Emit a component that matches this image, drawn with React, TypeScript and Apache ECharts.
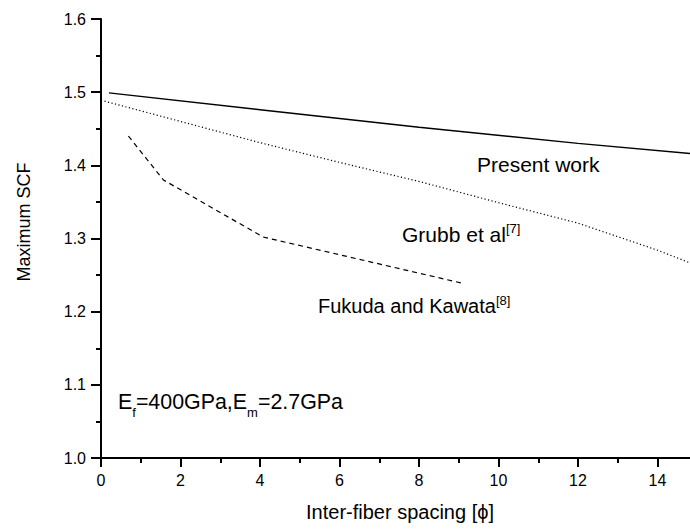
import React, { useEffect, useRef } from "react";
import * as echarts from "echarts";

// Data
const presentX = [0.2, 4, 8, 12, 14.85];
const presentY = [1.499, 1.476, 1.452, 1.43, 1.416];

const grubbX = [0, 2, 4, 6, 8, 10, 12, 14, 14.85];
const grubbY = [1.489, 1.46, 1.431, 1.404, 1.378, 1.349, 1.321, 1.284, 1.266];

const fukudaX = [0.69, 1.57, 4.08, 9.08];
const fukudaY = [1.44, 1.38, 1.302, 1.239];

const yTicks = [1.0, 1.1, 1.2, 1.3, 1.4, 1.5, 1.6];
const xTicks = [0, 2, 4, 6, 8, 10, 12, 14];

// E label pieces: [text, isSubscript]
const eLabelParts: [string, boolean][] = [
  ["E", false],
  ["f", true],
  ["=400GPa,E", false],
  ["m", true],
  ["=2.7GPa", false],
];

const FONT = '"Liberation Sans", Arial, sans-serif';

const zip = (xs: number[], ys: number[]) => xs.map((x, i) => [x, ys[i]]);

const mainStyle = (size: number, lh: number) => ({
  fontSize: size,
  fontFamily: FONT,
  lineHeight: lh,
  fill: "#000",
});
const smallStyle = (lh: number, va: string) => ({
  fontSize: 13,
  fontFamily: FONT,
  lineHeight: lh,
  verticalAlign: va,
  fill: "#000",
});

function buildELabel(x0: number, yc: number) {
  const cv = document.createElement("canvas");
  const ctx = cv.getContext("2d")!;
  let x = x0;
  const els: any[] = [];
  for (const [t, sub] of eLabelParts) {
    const size = sub ? 13 : 21.4;
    ctx.font = `${size}px ${FONT}`;
    els.push({
      type: "text",
      x,
      y: sub ? yc + 10 : yc,
      style: {
        text: t,
        fontSize: size,
        fontFamily: FONT,
        fill: "#000",
        align: "left",
        verticalAlign: "middle",
      },
    });
    x += ctx.measureText(t).width;
  }
  return els;
}

export default function App() {
  const ref = useRef<HTMLDivElement>(null);
  useEffect(() => {
    if (!ref.current) return;
    const chart = echarts.init(ref.current, undefined, { renderer: "svg" });
    const axisCommon = {
      axisLine: { show: true, onZero: false, lineStyle: { color: "#000", width: 2 } },
      axisTick: { show: true, inside: false, length: 9, lineStyle: { color: "#000", width: 2 } },
      minorTick: { show: true, splitNumber: 2, length: 5, lineStyle: { color: "#000", width: 2 } },
      splitLine: { show: false },
      minorSplitLine: { show: false },
    };
    chart.setOption({
      animation: false,
      backgroundColor: "#fff",
      grid: {
        left: 101,
        top: 19,
        width: 636,
        height: 439,
        containLabel: false,
        outerBoundsMode: "none",
      },
      xAxis: {
        type: "value",
        min: xTicks[0],
        max: 16,
        interval: 2,
        ...axisCommon,
        axisLabel: {
          margin: 14,
          color: "#000",
          fontSize: 16,
          fontFamily: FONT,
          formatter: (v: number) => (xTicks.includes(v) ? String(v) : ""),
        },
      },
      yAxis: {
        type: "value",
        min: yTicks[0],
        max: yTicks[yTicks.length - 1],
        interval: 0.1,
        ...axisCommon,
        axisTick: { ...axisCommon.axisTick, length: 10 },
        axisLabel: {
          margin: 15,
          color: "#000",
          fontSize: 16,
          fontFamily: FONT,
          formatter: (v: number) => v.toFixed(1),
        },
      },
      series: [
        {
          name: "Present work",
          type: "line",
          data: zip(presentX, presentY),
          showSymbol: false,
          lineStyle: { color: "#000", width: 1.4, type: "solid" },
        },
        {
          name: "Grubb et al",
          type: "line",
          data: zip(grubbX, grubbY),
          showSymbol: false,
          lineStyle: { color: "#000", width: 1.2, type: [1.2, 2.4] },
        },
        {
          name: "Fukuda and Kawata",
          type: "line",
          data: zip(fukudaX, fukudaY),
          showSymbol: false,
          lineStyle: { color: "#000", width: 1.2, type: [5, 4] },
        },
      ],
      graphic: [
        {
          type: "text",
          x: 477,
          y: 164,
          style: {
            text: "Present work",
            fontSize: 21,
            fontFamily: FONT,
            fill: "#000",
            align: "left",
            verticalAlign: "middle",
          },
        },
        {
          type: "text",
          x: 402,
          y: 234,
          style: {
            text: "{m|Grubb et al}{s|[7]}",
            fill: "#000",
            align: "left",
            verticalAlign: "middle",
            rich: { m: mainStyle(21, 24), s: smallStyle(15, "top") },
          },
        },
        {
          type: "text",
          x: 318,
          y: 306,
          style: {
            text: "{m|Fukuda and Kawata}{s|[8]}",
            fill: "#000",
            align: "left",
            verticalAlign: "middle",
            rich: { m: mainStyle(20, 24), s: smallStyle(15, "top") },
          },
        },
        ...buildELabel(118, 402),
        {
          type: "text",
          x: 400,
          y: 512,
          style: {
            text: "Inter-fiber spacing [\u03d5]",
            fontSize: 20,
            fontFamily: FONT,
            fill: "#000",
            align: "center",
            verticalAlign: "middle",
          },
        },
        {
          type: "text",
          x: 24,
          y: 222,
          rotation: Math.PI / 2,
          style: {
            text: "Maximum SCF",
            fontSize: 18,
            fontFamily: FONT,
            fill: "#000",
            align: "center",
            verticalAlign: "middle",
          },
        },
      ],
    });
    return () => chart.dispose();
  }, []);
  return (
    <div
      ref={ref}
      style={{ position: "absolute", left: 0, top: 0, width: 690, height: 529, background: "#fff" }}
    />
  );
}
